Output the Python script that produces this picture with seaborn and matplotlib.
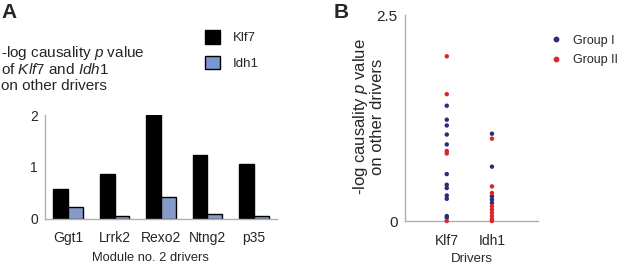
import matplotlib
matplotlib.use("Agg")
import matplotlib.pyplot as plt
import seaborn as sns
import pandas as pd
import numpy as np
from matplotlib.patches import Patch
from matplotlib.lines import Line2D

sns.set_theme(style="white")
plt.rcParams['font.family'] = ['Liberation Sans', 'DejaVu Sans']
plt.rcParams['mathtext.fontset'] = 'custom'
plt.rcParams['mathtext.it'] = 'Liberation Sans:italic'
plt.rcParams['mathtext.rm'] = 'Liberation Sans'

# Panel A data
drivers_a = ["Ggt1", "Lrrk2", "Rexo2", "Ntng2", "p35"]
klf7_vals = [0.58, 0.87, 2.0, 1.23, 1.05]
idh1_vals = [0.22, 0.06, 0.42, 0.09, 0.05]

# Panel B data
klf7_group1 = [1.40, 1.23, 1.16, 1.05, 0.93, 0.57, 0.44, 0.40, 0.31, 0.27, 0.06, 0.04]
klf7_group2 = [2.0, 1.54, 0.85, 0.82, 0.0]
idh1_group1 = [1.06, 0.66, 0.30, 0.26, 0.22]
idh1_group2 = [1.0, 0.42, 0.34, 0.18, 0.14, 0.10, 0.06, 0.02, 0.0]

black = "#000000"
blue = "#7b96d2"
navy = "#2a2e78"
red = "#d8262a"
gray = "#b0b0b0"

TICK = 10
LAB = 9

fig = plt.figure(figsize=(6.17, 2.65), dpi=100)

# ---------------- Panel A ----------------
axA = fig.add_axes([0.073, 0.174, 0.376, 0.392])
dfA = pd.DataFrame({
    "driver": drivers_a * 2,
    "value": klf7_vals + idh1_vals,
    "gene": ["Klf7"] * 5 + ["Idh1"] * 5,
})
sns.barplot(data=dfA, x="driver", y="value", hue="gene", palette=[black, blue],
            width=0.64, edgecolor="black", linewidth=1.0, ax=axA, legend=False, errorbar=None)
axA.set_ylim(0, 2)
axA.set_xlim(-0.5, 4.5)
axA.set_yticks([0, 0.5, 1, 1.5, 2])
axA.set_yticklabels(["0", "", "1", "", "2"])
axA.tick_params(axis="y", length=3, width=0.8, color=gray, direction="out", labelsize=TICK, pad=2)
axA.tick_params(axis="x", length=0, labelsize=TICK, pad=8.5)
for s in ["top", "right"]:
    axA.spines[s].set_visible(False)
for s in ["left", "bottom"]:
    axA.spines[s].set_color(gray)
    axA.spines[s].set_linewidth(1.0)
axA.set_xlabel("Module no. 2 drivers", fontsize=LAB + 0.3, labelpad=5)
axA.xaxis.set_label_coords((150 - 45) / 232, -0.315)
axA.xaxis.label.set_va("top")
axA.set_ylabel("")

fig.text(0.002, 0.99, "A", fontsize=15, fontweight="bold", va="top", ha="left")
title_lines = ["-log causality $\\it{p}$ value", "of $\\it{Klf7}$ and $\\it{Idh1}$", "on other drivers"]
title_y = [50, 68, 85]
for line, yy in zip(title_lines, title_y):
    fig.text(0.002, 1 - yy / 265, line, fontsize=11, va="center_baseline", ha="left")

handlesA = [Patch(facecolor=black, edgecolor="black", label="Klf7"),
            Patch(facecolor=blue, edgecolor="black", label="Idh1")]
fig.legend(handles=handlesA, loc="upper left", bbox_to_anchor=(0.333, 0.885), frameon=False,
           fontsize=9.5, handlelength=1.1, handleheight=1.15, handletextpad=1.0, labelspacing=0.85,
           borderaxespad=0, borderpad=0)

# ---------------- Panel B ----------------
axB = fig.add_axes([0.656, 0.166, 0.216, 0.777])
dfB = pd.DataFrame({
    "driver": ["Klf7"] * (len(klf7_group1) + len(klf7_group2)) + ["Idh1"] * (len(idh1_group1) + len(idh1_group2)),
    "value": klf7_group1 + klf7_group2 + idh1_group1 + idh1_group2,
    "group": ["Group I"] * len(klf7_group1) + ["Group II"] * len(klf7_group2)
             + ["Group I"] * len(idh1_group1) + ["Group II"] * len(idh1_group2),
})
sns.stripplot(data=dfB, x="driver", y="value", hue="group", palette=[navy, red],
              jitter=False, dodge=False, size=3.2, linewidth=0, ax=axB, legend=False,
              order=["Klf7", "Idh1"], hue_order=["Group I", "Group II"], clip_on=False, zorder=3)
axB.set_ylim(0, 2.5)
axB.set_xlim(-0.93, 2.02)
axB.set_yticks([0, 0.5, 1, 1.5, 2, 2.5])
axB.set_yticklabels(["0", "", "", "", "", "2.5"])
axB.tick_params(axis="y", length=3, width=0.8, color=gray, direction="out", labelsize=11, pad=2)
axB.tick_params(axis="x", length=0, labelsize=TICK, pad=9.5)
for s in ["top", "right"]:
    axB.spines[s].set_visible(False)
for s in ["left", "bottom"]:
    axB.spines[s].set_color(gray)
    axB.spines[s].set_linewidth(1.0)
axB.set_xlabel("Drivers", fontsize=LAB + 0.5, labelpad=3.5)
axB.set_ylabel("")
fig.text(368 / 617, 1 - 117 / 265, "-log causality $\\it{p}$ value\non other drivers",
         fontsize=12, rotation=90, ha="center", va="center", linespacing=1.05,
         multialignment="center")

fig.text(0.541, 0.99, "B", fontsize=15, fontweight="bold", va="top", ha="left")

handlesB = [Line2D([0], [0], marker="o", linestyle="", markersize=3.2, color=navy, label="Group I"),
            Line2D([0], [0], marker="o", linestyle="", markersize=3.2, color=red, label="Group II")]
axB.legend(handles=handlesB, loc="upper left", bbox_to_anchor=(1.1, 0.905), frameon=False,
           fontsize=9, handlelength=0.8, handletextpad=0.9, labelspacing=0.6, borderaxespad=0,
           borderpad=0)

fig.savefig("out.png", dpi=100)
